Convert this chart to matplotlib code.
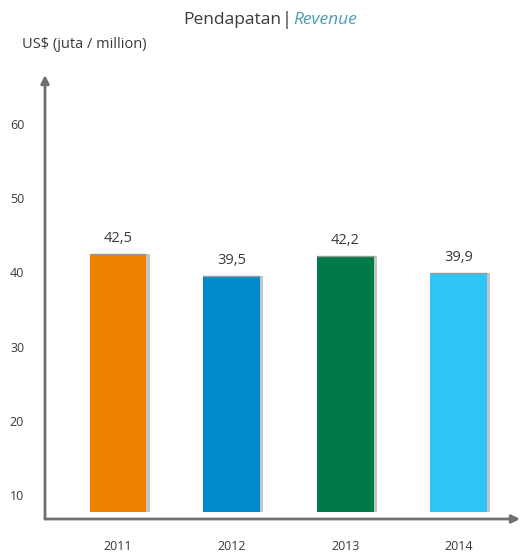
import numpy as np
import matplotlib
matplotlib.use("Agg")
import matplotlib.pyplot as plt
from matplotlib.patches import Rectangle

plt.rcParams["font.family"] = ["Open Sans", "DejaVu Sans"]

#%% Data
years = ["2011", "2012", "2013", "2014"]
revenue = [42.5, 39.5, 42.2, 39.9]
value_labels = ["42,5", "39,5", "42,2", "39,9"]
colors = ["#EF8200", "#008ACB", "#007A48", "#2FC6F6"]
yticks = [10, 20, 30, 40, 50, 60]

base = 7.7          # bars start a little above the x axis
axis_gray = "#707070"
text_gray = "#3a3a3a"

#%% Figure
fig = plt.figure(figsize=(5.22, 5.59), dpi=100)
ax = fig.add_axes([45 / 522, 1 - 519 / 559, 475 / 522, 444 / 559])
ax.set_xlim(-0.643, 3.54)
ax.set_ylim(6.77, 66.6)

x = np.arange(len(years))
width = 0.50

# soft shadow on the right side of each bar
for xi, v in zip(x, revenue):
    ax.add_patch(Rectangle((xi - width / 2 + 0.03, base), width, v - base,
                           facecolor="#c4c4c4", edgecolor="none", zorder=1))

ax.bar(x, np.array(revenue) - base, bottom=base, width=width, color=colors,
       edgecolor="none", zorder=2)
# thin gray cap on top of each bar
for xi, v in zip(x, revenue):
    ax.plot([xi - width / 2, xi + width / 2], [v, v], color="#9a9a9a",
            lw=1.0, zorder=3, solid_capstyle="butt")

for xi, v, lab in zip(x, revenue, value_labels):
    ax.text(xi, v + 1.1, lab, ha="center", va="bottom", fontsize=10.5,
            color=text_gray)

# axes drawn as arrows
for s in ax.spines.values():
    s.set_visible(False)
ax.annotate("", xy=(0, 1.0), xytext=(0, 0), xycoords="axes fraction",
            arrowprops=dict(arrowstyle="-|>", color=axis_gray, lw=2.0,
                            mutation_scale=12, shrinkA=0, shrinkB=0))
ax.annotate("", xy=(1.0, 0), xytext=(0, 0), xycoords="axes fraction",
            arrowprops=dict(arrowstyle="-|>", color=axis_gray, lw=2.0,
                            mutation_scale=12, shrinkA=0, shrinkB=0))

ax.set_yticks(yticks)
ax.set_yticklabels([str(t) for t in yticks])
ax.set_xticks(x)
ax.set_xticklabels(years)
ax.tick_params(axis="both", length=0, labelsize=9, colors=text_gray)
ax.tick_params(axis="y", pad=15)
ax.tick_params(axis="x", pad=15)

#%% Titles
fig.text(281 / 522, 1 - 20 / 559, "Pendapatan", ha="right", va="center",
         fontsize=12.5, color=text_gray)
fig.text(287 / 522, 1 - 20 / 559, "|", ha="center", va="center",
         fontsize=13, color=text_gray)
fig.text(293 / 522, 1 - 20 / 559, "Revenue", ha="left", va="center",
         fontsize=12.5, color="#4A9DB3", style="italic")
fig.text(22 / 522, 1 - 45 / 559, "US$ (juta / million)", ha="left",
         va="center", fontsize=10.5, color=text_gray)

fig.savefig("out.png", dpi=100, facecolor="white")
